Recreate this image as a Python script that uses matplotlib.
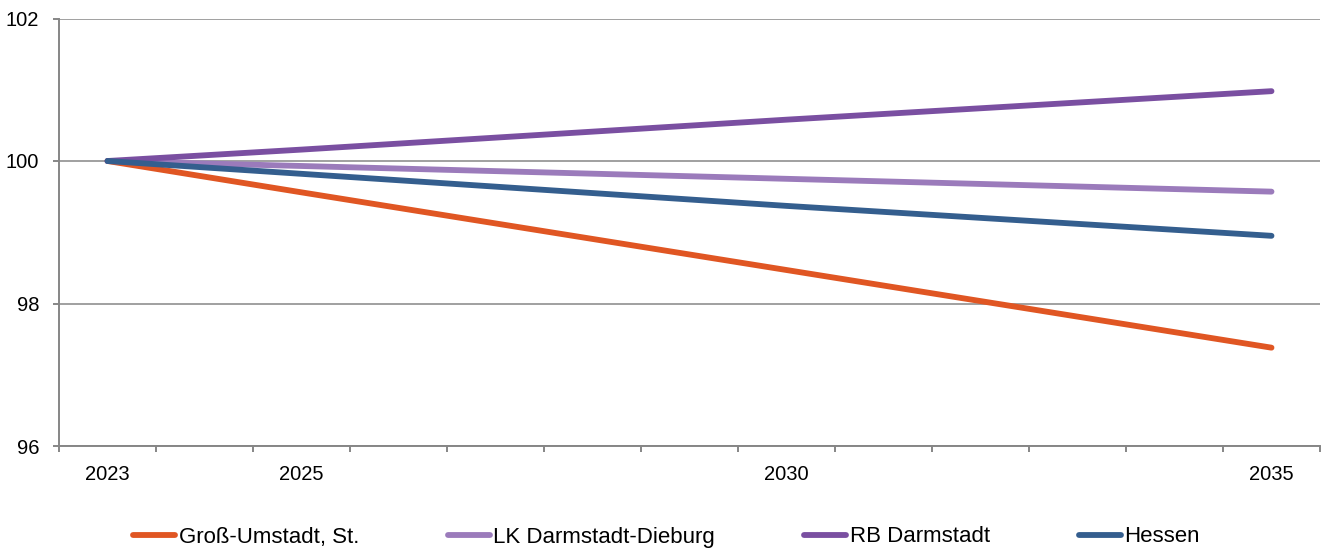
import matplotlib
matplotlib.use("Agg")
import matplotlib.pyplot as plt
from matplotlib.ticker import FixedLocator

years = [2023, 2025, 2030, 2035]
gross_umstadt = [100.0, 99.56, 98.47, 97.38]
lk_darmstadt_dieburg = [100.0, 99.93, 99.75, 99.57]
rb_darmstadt = [100.0, 100.16, 100.58, 100.98]
hessen = [100.0, 99.82, 99.37, 98.95]

series_names = ["Groß-Umstadt, St.", "LK Darmstadt-Dieburg", "RB Darmstadt", "Hessen"]
series_values = [gross_umstadt, lk_darmstadt_dieburg, rb_darmstadt, hessen]
colors = ["#E05623", "#9B7BBB", "#7A4FA1", "#345E8E"]

x_tick_labels = ["2023", "2025", "2030", "2035"]
y_ticks = [96, 98, 100, 102]

plt.rcParams['font.family'] = ['Liberation Sans', 'DejaVu Sans']

fig = plt.figure(figsize=(13.33, 5.49), dpi=100)
ax = fig.add_axes([59/1333, 1-446/549, (1320-59)/1333, (446-18.5)/549])

gray = "#868686"
for name, vals, c in zip(series_names, series_values, colors):
    ax.plot(years, vals, color=c, lw=4.2, solid_capstyle='round', label=name, zorder=3)

ax.set_xlim(2022.5, 2035.5)
ax.set_ylim(96, 102)
ax.set_yticks(y_ticks)
ax.set_yticklabels([str(v) for v in y_ticks])
ax.set_xticks([int(t) for t in x_tick_labels])
ax.set_xticklabels(x_tick_labels)
ax.xaxis.set_minor_locator(FixedLocator([2022.5 + k for k in range(14)]))

ax.grid(axis='y', color=gray, lw=1.1, zorder=1)
for s in ['top', 'right']:
    ax.spines[s].set_visible(False)
for s in ['left', 'bottom']:
    ax.spines[s].set_color(gray)
    ax.spines[s].set_linewidth(1.4)

ax.tick_params(axis='y', which='major', length=4.3, width=1.4, color=gray, pad=10,
               labelsize=14.5, labelcolor='black')
ax.tick_params(axis='x', which='major', length=0, pad=14, labelsize=14.5, labelcolor='black')
ax.tick_params(axis='x', which='minor', length=4.3, width=1.4, color=gray)

leg = fig.legend(loc='center left', bbox_to_anchor=(133/1333, 1-537/549), ncol=4,
                 frameon=False, fontsize=16, handlelength=1.9, handletextpad=0.15,
                 columnspacing=4.0, borderpad=0, borderaxespad=0)
for h in leg.get_lines():
    h.set_solid_capstyle('round')
    h.set_linewidth(4.2)

fig.savefig("out.png", dpi=100)
